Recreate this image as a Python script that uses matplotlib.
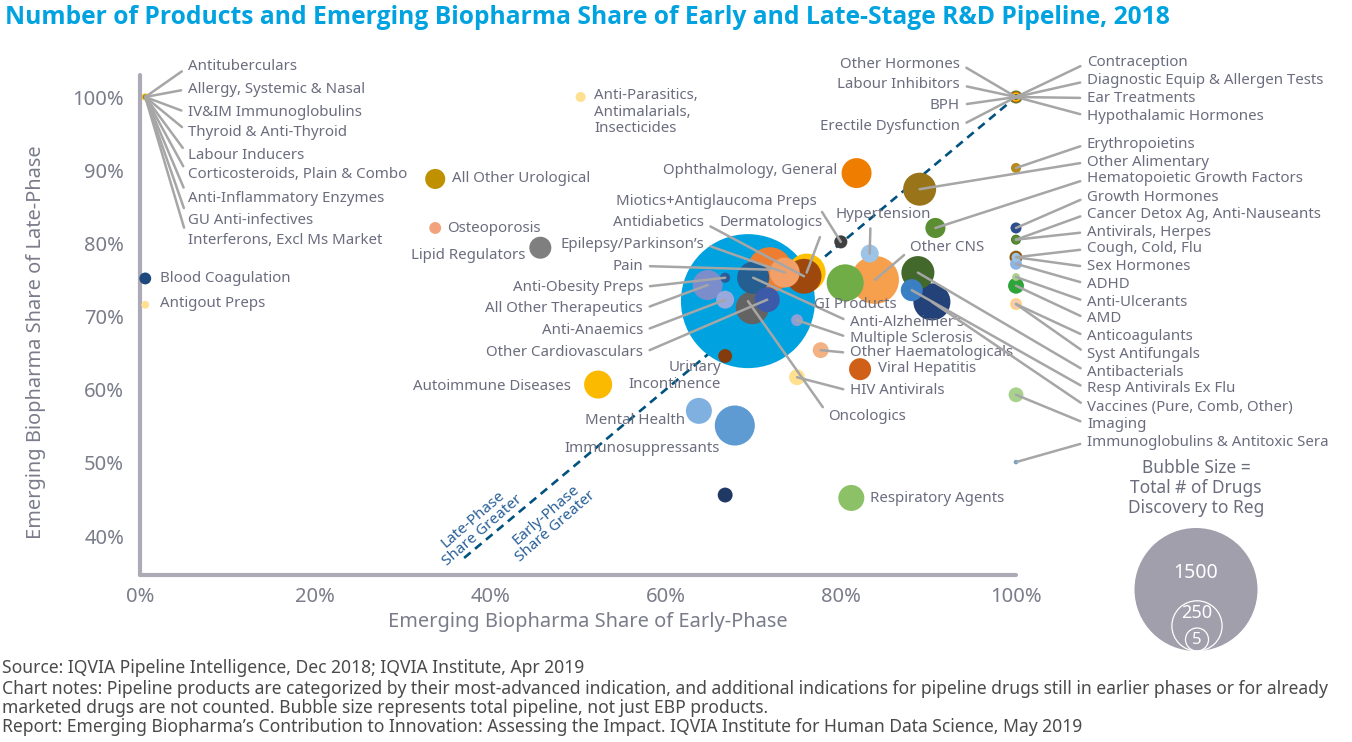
import numpy as np
import matplotlib
matplotlib.use('Agg')
import matplotlib.pyplot as plt
from matplotlib.patches import Circle

plt.rcParams['font.family'] = ['Noto Sans', 'DejaVu Sans']

W, H = 1352, 742

# ---- data: therapy areas, EBP share of early phase (x), late phase (y), total drugs ----
names = [
    'Antituberculars', 'Allergy, Systemic & Nasal', 'IV&IM Immunoglobulins', 'Thyroid & Anti-Thyroid',
    'Labour Inducers', 'Corticosteroids, Plain & Combo', 'Anti-Inflammatory Enzymes', 'GU Anti-infectives',
    'Interferons, Excl Ms Market', 'Blood Coagulation', 'Antigout Preps', 'Anti-Parasitics',
    'All Other Urological', 'Osteoporosis', 'Lipid Regulators', 'Autoimmune Diseases',
    'Urinary Incontinence', 'Mental Health', 'Immunosuppressants', 'Unlabeled A',
    'Respiratory Agents', 'HIV Antivirals', 'Viral Hepatitis', 'Other Haematologicals',
    'Multiple Sclerosis', 'Oncologics', 'Pain', 'Dermatologics',
    'Antidiabetics', 'Epilepsy/Parkinson\u2019s', 'Anti-Alzheimer\u2019s', 'Anti-Obesity Preps',
    'All Other Therapeutics', 'Anti-Anaemics', 'Unlabeled B', 'Other Cardiovasculars',
    'Miotics+Antiglaucoma Preps', 'GI Products', 'Other CNS', 'Hypertension',
    'Ophthalmology, General', 'Other Alimentary', 'Hematopoietic Growth Factors', 'Antibacterials',
    'Resp Antivirals Ex Flu', 'Vaccines (Pure, Comb, Other)', 'Erythropoietins', 'Growth Hormones',
    'Cancer Detox Ag, Anti-Nauseants', 'Antivirals, Herpes', 'Cough, Cold, Flu', 'Sex Hormones',
    'ADHD', 'Anti-Ulcerants', 'AMD', 'Anticoagulants',
    'Syst Antifungals', 'Imaging', 'Immunoglobulins & Antitoxic Sera', 'Other Hormones',
    'Labour Inhibitors', 'BPH', 'Erectile Dysfunction', 'Contraception',
    'Diagnostic Equip & Allergen Tests', 'Ear Treatments', 'Hypothalamic Hormones',
]
early_share = [
    0.6, 0.6, 0.6, 0.6, 0.6, 0.6, 0.6, 0.6,
    0.6, 0.6, 0.6, 50.3, 33.7, 33.7, 45.7, 52.3,
    66.8, 63.8, 67.9, 66.8, 81.2, 75.0, 82.2, 77.7,
    75.0, 69.4, 71.9, 76.1, 75.8, 73.6, 70.0, 66.8,
    64.8, 66.8, 69.9, 71.6, 80.0, 80.5, 83.9, 83.3,
    81.8, 89.0, 90.8, 88.8, 88.1, 90.4, 100, 100,
    100, 100, 100, 100, 100, 100, 100, 100,
    100, 100, 100, 100, 100, 100, 100, 100,
    100, 100, 100,
]
late_share = [
    100, 100, 100, 100, 100, 100, 100, 100,
    100, 75.2, 71.6, 100, 88.8, 82.1, 79.4, 60.7,
    64.6, 57.1, 55.1, 45.6, 45.2, 61.7, 62.8, 65.4,
    69.5, 72.1, 76.4, 76.0, 75.5, 76.0, 75.3, 75.3,
    74.3, 72.3, 71.2, 72.3, 80.2, 74.6, 75.0, 78.6,
    89.6, 87.4, 82.1, 76.0, 73.6, 72.0, 90.3, 82.1,
    80.5, 80.5, 78.1, 78.1, 77.2, 75.4, 74.2, 71.7,
    71.7, 59.3, 50.1, 100, 100, 100, 100, 100,
    100, 100, 100,
]
total_drugs = [
    5, 2, 1, 1, 1, 1, 1, 1,
    1, 14, 6, 10, 40, 14, 48, 78,
    19, 67, 159, 22, 67, 25, 48, 25,
    14, 1780, 200, 143, 121, 89, 102, 10,
    89, 32, 108, 62, 17, 136, 228, 32,
    89, 108, 40, 108, 48, 136, 10, 12,
    10, 6, 17, 8, 14, 6, 25, 14,
    10, 22, 2, 17, 12, 8, 3, 2,
    1, 1, 1,
]
colors = [
    '#F2B600', '#4F6FB0', '#70AD47', '#ED7D31', '#5B9BD5', '#A5A5A5', '#264478', '#9E480E',
    '#636363', '#1F497D', '#FFE08F', '#FFE08F', '#BF9000', '#F2A27D', '#7F7F7F', '#FBB900',
    '#843C0C', '#7FB0DF', '#5E9BD3', '#203864', '#8CC168', '#FFE08F', '#D05F17', '#F4B183',
    '#8E9FD5', '#00A3E0', '#ED7D31', '#FFC000', '#9E480E', '#F2A068', '#255E91', '#2E5A97',
    '#7B8ECB', '#98A9DD', '#636363', '#3C5AA8', '#404040', '#70AD47', '#F6A04D', '#9DC3E6',
    '#EF7D00', '#9A7418', '#5B8E33', '#43682B', '#3A7FC4', '#234279', '#B88A1A', '#2E4D8F',
    '#4A7A2C', '#5B8E33', '#8B5A0B', '#9DC3E6', '#8EB4E3', '#A9D18E', '#2EA43A', '#FFD966',
    '#F8CBAD', '#A9D18E', '#5B9BD5', '#5B7F2E', '#C55A11', '#FFC000', '#1F3864', '#4472C4',
    '#A5A5A5', '#ED7D31', '#70AD47',
]

legend_sizes = [1500, 250, 5]

# ---- label layout (pixel positions of label anchors in the 1352x742 canvas) ----
L, R = (0, 0.5), (1, 0.5)
label_layout = {
    'Antituberculars': (188, 67, 'left', True, L),
    'Allergy, Systemic & Nasal': (188, 89, 'left', True, L),
    'IV&IM Immunoglobulins': (188, 113, 'left', True, L),
    'Thyroid & Anti-Thyroid': (188, 132, 'left', True, L),
    'Labour Inducers': (188, 155, 'left', True, L),
    'Corticosteroids, Plain & Combo': (188, 175, 'left', True, L),
    'Anti-Inflammatory Enzymes': (188, 198, 'left', True, L),
    'GU Anti-infectives': (188, 220, 'left', True, L),
    'Interferons, Excl Ms Market': (188, 241, 'left', True, L),
    'Blood Coagulation': (160, 278, 'left', False, L),
    'Antigout Preps': (160, 304, 'left', False, L),
    'Anti-Parasitics': (594, 112, 'left', False, L),
    'All Other Urological': (452, 179, 'left', False, L),
    'Osteoporosis': (447, 228, 'left', False, L),
    'Lipid Regulators': (525, 255, 'right', False, R),
    'Autoimmune Diseases': (571, 387, 'right', False, R),
    'Urinary Incontinence': (721, 376, 'right', False, R),
    'Mental Health': (685, 421, 'right', False, R),
    'Immunosuppressants': (720, 449, 'right', False, R),
    'Respiratory Agents': (870, 498, 'left', False, L),
    'HIV Antivirals': (850, 391, 'left', True, L),
    'Viral Hepatitis': (878, 369, 'left', False, L),
    'Other Haematologicals': (850, 353, 'left', True, L),
    'Multiple Sclerosis': (850, 338, 'left', True, L),
    'Anti-Alzheimer\u2019s': (850, 322, 'left', True, L),
    'Oncologics': (828, 416, 'left', True, (0, 0.6)),
    'Pain': (643, 266, 'right', True, R),
    'Dermatologics': (823, 223, 'right', True, (1, 0.1)),
    'Antidiabetics': (704, 223, 'right', True, R),
    'Epilepsy/Parkinson\u2019s': (704, 244, 'right', True, R),
    'Anti-Obesity Preps': (643, 287, 'right', True, R),
    'All Other Therapeutics': (643, 309, 'right', True, R),
    'Anti-Anaemics': (643, 331, 'right', True, R),
    'Other Cardiovasculars': (643, 353, 'right', True, R),
    'Miotics+Antiglaucoma Preps': (817, 201, 'right', True, (1, 0.3)),
    'GI Products': (855, 305, 'center', False, L),
    'Other CNS': (910, 247, 'left', True, (0, 0.3)),
    'Hypertension': (883, 214, 'center', True, (0.37, 0.05)),
    'Ophthalmology, General': (837, 170, 'right', False, R),
    'Other Hormones': (960, 64, 'right', True, R),
    'Labour Inhibitors': (960, 85, 'right', True, R),
    'BPH': (960, 105, 'right', True, R),
    'Erectile Dysfunction': (960, 126, 'right', True, R),
}
right_column = [
    'Contraception', 'Diagnostic Equip & Allergen Tests', 'Ear Treatments', 'Hypothalamic Hormones',
    'Erythropoietins', 'Other Alimentary', 'Hematopoietic Growth Factors', 'Growth Hormones',
    'Cancer Detox Ag, Anti-Nauseants', 'Antivirals, Herpes', 'Cough, Cold, Flu', 'Sex Hormones',
    'ADHD', 'Anti-Ulcerants', 'AMD', 'Anticoagulants', 'Syst Antifungals', 'Antibacterials',
    'Resp Antivirals Ex Flu', 'Vaccines (Pure, Comb, Other)', 'Imaging', 'Immunoglobulins & Antitoxic Sera',
]
right_y = [63, 81, 98, 116, 144, 162, 179, 197, 214, 232, 249, 267, 284, 302, 319, 337, 354, 372, 389, 407, 424, 442]
for nm, py in zip(right_column, right_y):
    label_layout[nm] = (1087, py, 'left', True, L)

display_text = {
    'Anti-Parasitics': 'Anti-Parasitics,\nAntimalarials,\nInsecticides',
    'Urinary Incontinence': 'Urinary\nIncontinence',
}

LABEL_C = '#6B6D7E'
LINE_C = '#A6A6A6'
AXIS_C = '#ABAAB6'
TICK_C = '#7A7C8A'

# axes geometry in pixels
AX_L, AX_R, AX_T, AX_B = 140, 1016, 75, 575
PX_PER_PCT = (536 - 97) / 60.0
Y0 = 100 - (AX_B - 97) / PX_PER_PCT
Y1 = 100 + (97 - AX_T) / PX_PER_PCT


def lx(px):
    return (px - AX_L) / (AX_R - AX_L) * 100.0


def ly(py):
    return Y0 + (AX_B - py) / (AX_B - AX_T) * (Y1 - Y0)


def bubble_s(n):
    # legend: 1500 drugs -> 123 px diameter
    d_px = 123.0 * np.sqrt(np.asarray(n, dtype=float) / 1500.0)
    return (d_px * 72.0 / 100.0) ** 2


fig = plt.figure(figsize=(W / 100, H / 100), dpi=100)
ax = fig.add_axes([AX_L / W, 1 - AX_B / H, (AX_R - AX_L) / W, (AX_B - AX_T) / H])
ax.set_xlim(0, 100)
ax.set_ylim(Y0, Y1)

order = np.argsort(total_drugs)[::-1]
xs = np.array(early_share)[order]
ys = np.array(late_share)[order]
ss = bubble_s(np.array(total_drugs)[order])
cs = [colors[i] for i in order]
ax.scatter(xs, ys, s=ss, c=cs, linewidths=0, zorder=3, clip_on=False)

# parity line
ax.plot([37, 100], [37, 100], ls=(0, (3.2, 2.2)), color='#00527F', lw=1.9, zorder=2)
ax.text(lx(478), ly(525), 'Late-Phase\nShare Greater', rotation=41, ha='center', va='center',
        fontsize=11, color='#2A6099', rotation_mode='anchor', linespacing=1.0)
ax.text(lx(551), ly(521), 'Early-Phase\nShare Greater', rotation=41, ha='center', va='center',
        fontsize=11, color='#2A6099', rotation_mode='anchor', linespacing=1.0)

# labels
for nm, x, y in zip(names, early_share, late_share):
    if nm not in label_layout:
        continue
    px, py, ha, line, rel = label_layout[nm]
    arrow = None
    if line:
        arrow = dict(arrowstyle='-', color=LINE_C, lw=1.8, shrinkA=3, shrinkB=0, relpos=rel)
    ax.annotate(display_text.get(nm, nm), xy=(x, y), xytext=(lx(px), ly(py)), textcoords='data',
                ha=ha, va='center', fontsize=10.8, color=LABEL_C, annotation_clip=False,
                zorder=5, arrowprops=arrow, linespacing=1.1)

# axes styling
for sp in ['top', 'right']:
    ax.spines[sp].set_visible(False)
for sp in ['left', 'bottom']:
    ax.spines[sp].set_color(AXIS_C)
    ax.spines[sp].set_linewidth(3.0)
    ax.spines[sp].set_capstyle('round')
ax.set_xticks([0, 20, 40, 60, 80, 100])
ax.set_xticklabels(['0%', '20%', '40%', '60%', '80%', '100%'])
ax.set_yticks([40, 50, 60, 70, 80, 90, 100])
ax.set_yticklabels(['40%', '50%', '60%', '70%', '80%', '90%', '100%'])
ax.tick_params(length=0, labelsize=14.5, labelcolor=TICK_C)
ax.tick_params(axis='x', pad=9)
ax.tick_params(axis='y', pad=11.5)
ax.set_xlabel('Emerging Biopharma Share of Early-Phase', fontsize=14.4, color=TICK_C)
ax.set_ylabel('Emerging Biopharma Share of Late-Phase', fontsize=14.4, color=TICK_C)
ax.xaxis.set_label_coords(0.511, -0.073)
ax.yaxis.set_label_coords(-0.107, 0.466)

# title
fig.text(5 / W, 1 - 17 / H, 'Number of Products and Emerging Biopharma Share of Early and Late-Stage R&D Pipeline, 2018',
         fontsize=17.7, fontweight='bold', family=['Open Sans', 'Lato', 'DejaVu Sans'],
         color='#00A3E0', ha='left', va='center')

# bubble size legend
fig.text(1196 / W, 1 - 488 / H, 'Bubble Size =\nTotal # of Drugs\nDiscovery to Reg', ha='center', va='center',
         fontsize=12.5, color=LABEL_C, linespacing=1.15)
lg = fig.add_axes([1120 / W, 1 - 660 / H, 155 / W, 140 / H])
lg.set_xlim(0, 155)
lg.set_ylim(0, 140)
lg.axis('off')
base = 9
for i, v in enumerate(legend_sizes):
    r = max(61.5 * np.sqrt(v / 1500.0), 11.5)
    if i == 0:
        lg.add_patch(Circle((76, base + r), r, facecolor='#A09FAB', edgecolor='none'))
        lg.text(76, base + r + 16, str(v), ha='center', va='center', fontsize=14, color='white')
    else:
        lg.add_patch(Circle((77, base + r), r, facecolor='none', edgecolor='white', lw=0.9))
        off = 13 if i == 1 else -1
        lg.text(77, base + r + off, str(v), ha='center', va='center', fontsize=13 if i == 1 else 12, color='white')

# footer
footer = [
    'Source: IQVIA Pipeline Intelligence, Dec 2018; IQVIA Institute, Apr 2019',
    'Chart notes: Pipeline products are categorized by their most-advanced indication, and additional indications for pipeline drugs still in earlier phases or for already',
    'marketed drugs are not counted. Bubble size represents total pipeline, not just EBP products.',
    'Report: Emerging Biopharma\u2019s Contribution to Innovation: Assessing the Impact. IQVIA Institute for Human Data Science, May 2019',
]
for txt, py in zip(footer, [668, 689, 708, 727]):
    fig.text(2 / W, 1 - py / H, txt, ha='left', va='center', fontsize=12.6, color='#4A4A4A')

fig.savefig('out.png', dpi=100)
